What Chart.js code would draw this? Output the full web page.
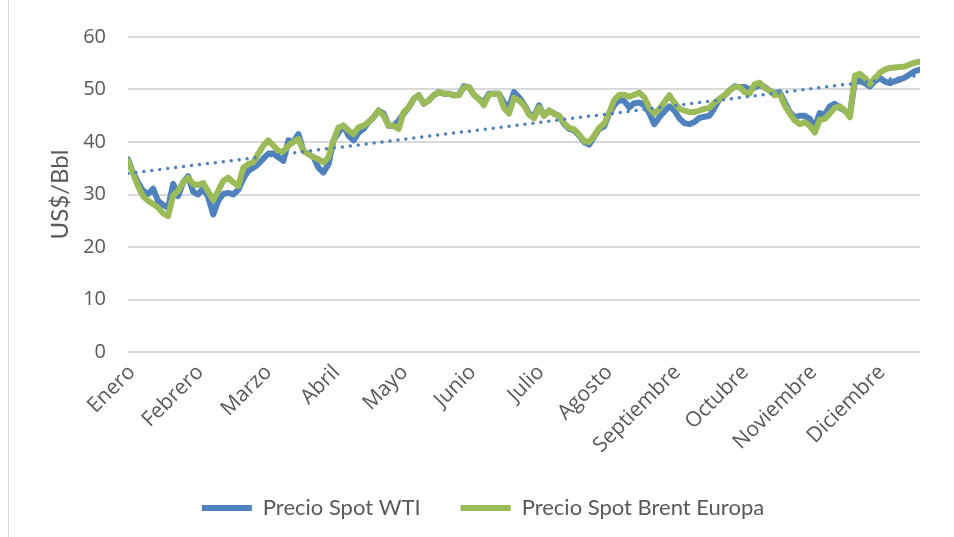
<!DOCTYPE html>
<html>
<head>
<meta charset="utf-8">
<script src="https://cdn.jsdelivr.net/npm/chart.js@4.4.0/dist/chart.umd.min.js"></script>
<style>
  html, body { margin: 0; padding: 0; background: #fff; }
  #marco { position: absolute; left: 8px; top: -1px; width: 960px; height: 545px; border: 1px solid #d9d9d9; }
  #grafico { position: absolute; left: 0; top: 0; }
</style>
</head>
<body>
<div id="marco"></div>
<canvas id="grafico" width="954" height="537"></canvas>
<script>
// Meses del eje X (una etiqueta cada 21 dias de mercado)
const meses = ["Enero", "Febrero", "Marzo", "Abril", "Mayo", "Junio", "Julio",
  "Agosto", "Septiembre", "Octubre", "Noviembre", "Diciembre"];
const diasPorMes = 21;
const totalDias = 244;

// Precio Spot WTI (US$/Bbl)
const wti = [
  36.7, 34.2, 32.3, 30.7, 30.1, 31.1, 28.8, 28.0, 27.5, 32.0,
  29.7, 32.3, 33.5, 30.5, 30.0, 31.2, 29.5, 26.2, 28.8, 30.1,
  30.3, 30.0, 30.9, 33.0, 34.5, 35.1, 35.8, 36.8, 37.8, 37.8,
  37.1, 36.4, 40.3, 40.0, 41.5, 38.3, 37.7, 37.1, 35.1, 34.2,
  35.8, 40.3, 41.8, 43.1, 41.2, 40.3, 41.8, 42.5, 43.8, 44.7,
  46.0, 45.4, 43.1, 43.1, 44.1, 45.4, 46.6, 48.2, 48.9, 47.3,
  47.9, 48.9, 49.5, 49.2, 49.2, 48.9, 49.0, 50.6, 50.5, 49.0,
  48.2, 47.6, 49.2, 49.2, 49.2, 47.5, 46.5, 49.5, 48.5, 47.2,
  45.5, 44.8, 47.0, 45.0, 46.0, 45.4, 45.0, 43.4, 42.5, 42.2,
  41.2, 40.0, 39.5, 41.0, 42.5, 43.0, 45.4, 47.0, 48.0, 47.8,
  46.6, 47.4, 47.5, 47.0, 45.5, 43.4, 44.7, 45.8, 46.8, 46.0,
  44.5, 43.6, 43.4, 43.8, 44.6, 44.8, 45.0, 46.5, 48.2, 48.8,
  49.8, 50.6, 50.5, 50.5, 50.0, 50.4, 50.8, 50.5, 49.8, 49.2,
  49.5, 47.6, 45.7, 44.7, 45.0, 45.0, 44.4, 42.8, 45.5, 45.2,
  46.8, 47.3, 46.5, 46.0, 45.0, 51.6, 51.6, 51.2, 50.6, 51.6,
  52.2, 51.5, 51.2, 51.6, 51.9, 52.3, 52.9, 53.5, 53.8
];

// Precio Spot Brent Europa (US$/Bbl)
const brent = [
  36.4, 34.0, 31.6, 29.7, 28.8, 28.2, 27.5, 26.4, 25.9, 29.8,
  30.7, 32.3, 33.2, 32.0, 31.8, 32.2, 30.6, 28.9, 30.7, 32.6,
  33.2, 32.3, 31.6, 35.1, 35.8, 36.1, 37.8, 39.3, 40.3, 39.3,
  38.3, 38.2, 39.3, 40.0, 40.6, 38.3, 37.7, 37.1, 36.7, 36.1,
  37.1, 40.3, 42.8, 43.1, 42.2, 41.5, 42.8, 43.1, 43.8, 44.7,
  46.0, 45.0, 43.1, 43.1, 42.5, 45.7, 46.6, 48.2, 48.9, 47.3,
  47.9, 48.9, 49.5, 49.2, 49.2, 48.9, 48.9, 50.4, 50.5, 49.0,
  48.2, 47.0, 49.0, 49.2, 49.2, 46.5, 45.4, 48.4, 47.9, 47.0,
  45.2, 44.5, 46.6, 45.0, 46.0, 45.4, 45.0, 43.6, 42.7, 42.4,
  41.4, 40.2, 40.0, 41.2, 42.7, 43.5, 45.6, 48.0, 49.0, 49.0,
  48.6, 49.0, 49.4, 48.5, 46.5, 45.4, 46.3, 47.6, 48.9, 47.5,
  46.3, 46.0, 45.7, 45.7, 46.0, 46.3, 46.5, 47.5, 48.2, 48.9,
  49.8, 50.5, 50.5, 49.5, 49.2, 51.0, 51.3, 50.3, 49.8, 48.9,
  49.2, 47.0, 45.4, 44.1, 43.4, 43.8, 43.1, 41.8, 44.2, 44.4,
  45.4, 46.5, 46.8, 46.0, 44.7, 52.6, 53.0, 52.2, 51.0, 52.2,
  53.2, 53.8, 54.1, 54.2, 54.3, 54.4, 54.8, 55.1, 55.3
];

const colorTexto = "#595959";

// Convierte la serie en puntos {x: dia, y: precio}
function puntos(valores) {
  return valores.map((v, i) => ({ x: i * totalDias / (valores.length - 1), y: v }));
}

// Linea de tendencia lineal (minimos cuadrados) sobre el WTI
function tendencia(valores) {
  const pts = puntos(valores);
  const n = pts.length;
  const mx = pts.reduce((a, p) => a + p.x, 0) / n;
  const my = pts.reduce((a, p) => a + p.y, 0) / n;
  let num = 0, den = 0;
  pts.forEach(p => { num += (p.x - mx) * (p.y - my); den += (p.x - mx) * (p.x - mx); });
  const m = num / den;
  const b = my - m * mx;
  return [{ x: 0, y: b }, { x: totalDias, y: b + m * totalDias }];
}

const ctx = document.getElementById("grafico").getContext("2d");

new Chart(ctx, {
  type: "line",
  data: {
    datasets: [
      {
        label: "Precio Spot WTI",
        data: puntos(wti),
        borderColor: "#4F81BD",
        backgroundColor: "#4F81BD",
        borderWidth: 6,
        borderCapStyle: "round",
        order: 2
      },
      {
        label: "Precio Spot Brent Europa",
        data: puntos(brent),
        borderColor: "#9BBB59",
        backgroundColor: "#9BBB59",
        borderWidth: 6,
        borderCapStyle: "round",
        order: 1
      },
      {
        label: "Lineal (Precio Spot WTI)",
        data: tendencia(wti),
        borderColor: "#4F81BD",
        borderWidth: 3.5,
        borderDash: [0, 8],
        borderCapStyle: "round",
        order: 0
      }
    ]
  },
  options: {
    responsive: false,
    animation: false,
    elements: {
      point: { radius: 0 },
      line: { tension: 0, borderJoinStyle: "round" }
    },
    layout: { padding: { left: 46, right: 34, top: 37, bottom: 8 } },
    scales: {
      x: {
        type: "linear",
        min: 0,
        max: totalDias,
        grid: { display: false },
        border: { display: false },
        afterBuildTicks: s => { s.ticks = meses.map((m, i) => ({ value: i * diasPorMes })); },
        afterFit: s => { s.height = 105; },
        ticks: {
          autoSkip: false,
          minRotation: 45,
          maxRotation: 45,
          padding: 0,
          labelOffset: 4,
          color: colorTexto,
          font: { family: "'Open Sans'", size: 21 },
          callback: v => meses[Math.round(v / diasPorMes)]
        }
      },
      y: {
        min: 0,
        max: 60,
        afterFit: s => { s.width = 82; },
        grid: { color: "#d9d9d9", lineWidth: 2, drawTicks: false },
        border: { display: false },
        ticks: {
          stepSize: 10,
          padding: 22,
          color: colorTexto,
          font: { family: "'Open Sans'", size: 20 }
        },
        title: {
          display: true,
          text: "US$/Bbl",
          color: colorTexto,
          padding: 0,
          font: { family: "Lato", size: 24 }
        }
      }
    },
    plugins: {
      legend: {
        position: "bottom",
        labels: {
          filter: item => item.datasetIndex < 2,
          sort: (a, b) => a.datasetIndex - b.datasetIndex,
          usePointStyle: true,
          pointStyle: "line",
          pointStyleWidth: 50,
          padding: 40,
          color: colorTexto,
          font: { family: "Lato", size: 22 }
        }
      },
      tooltip: { enabled: false }
    }
  }
});
</script>
</body>
</html>
